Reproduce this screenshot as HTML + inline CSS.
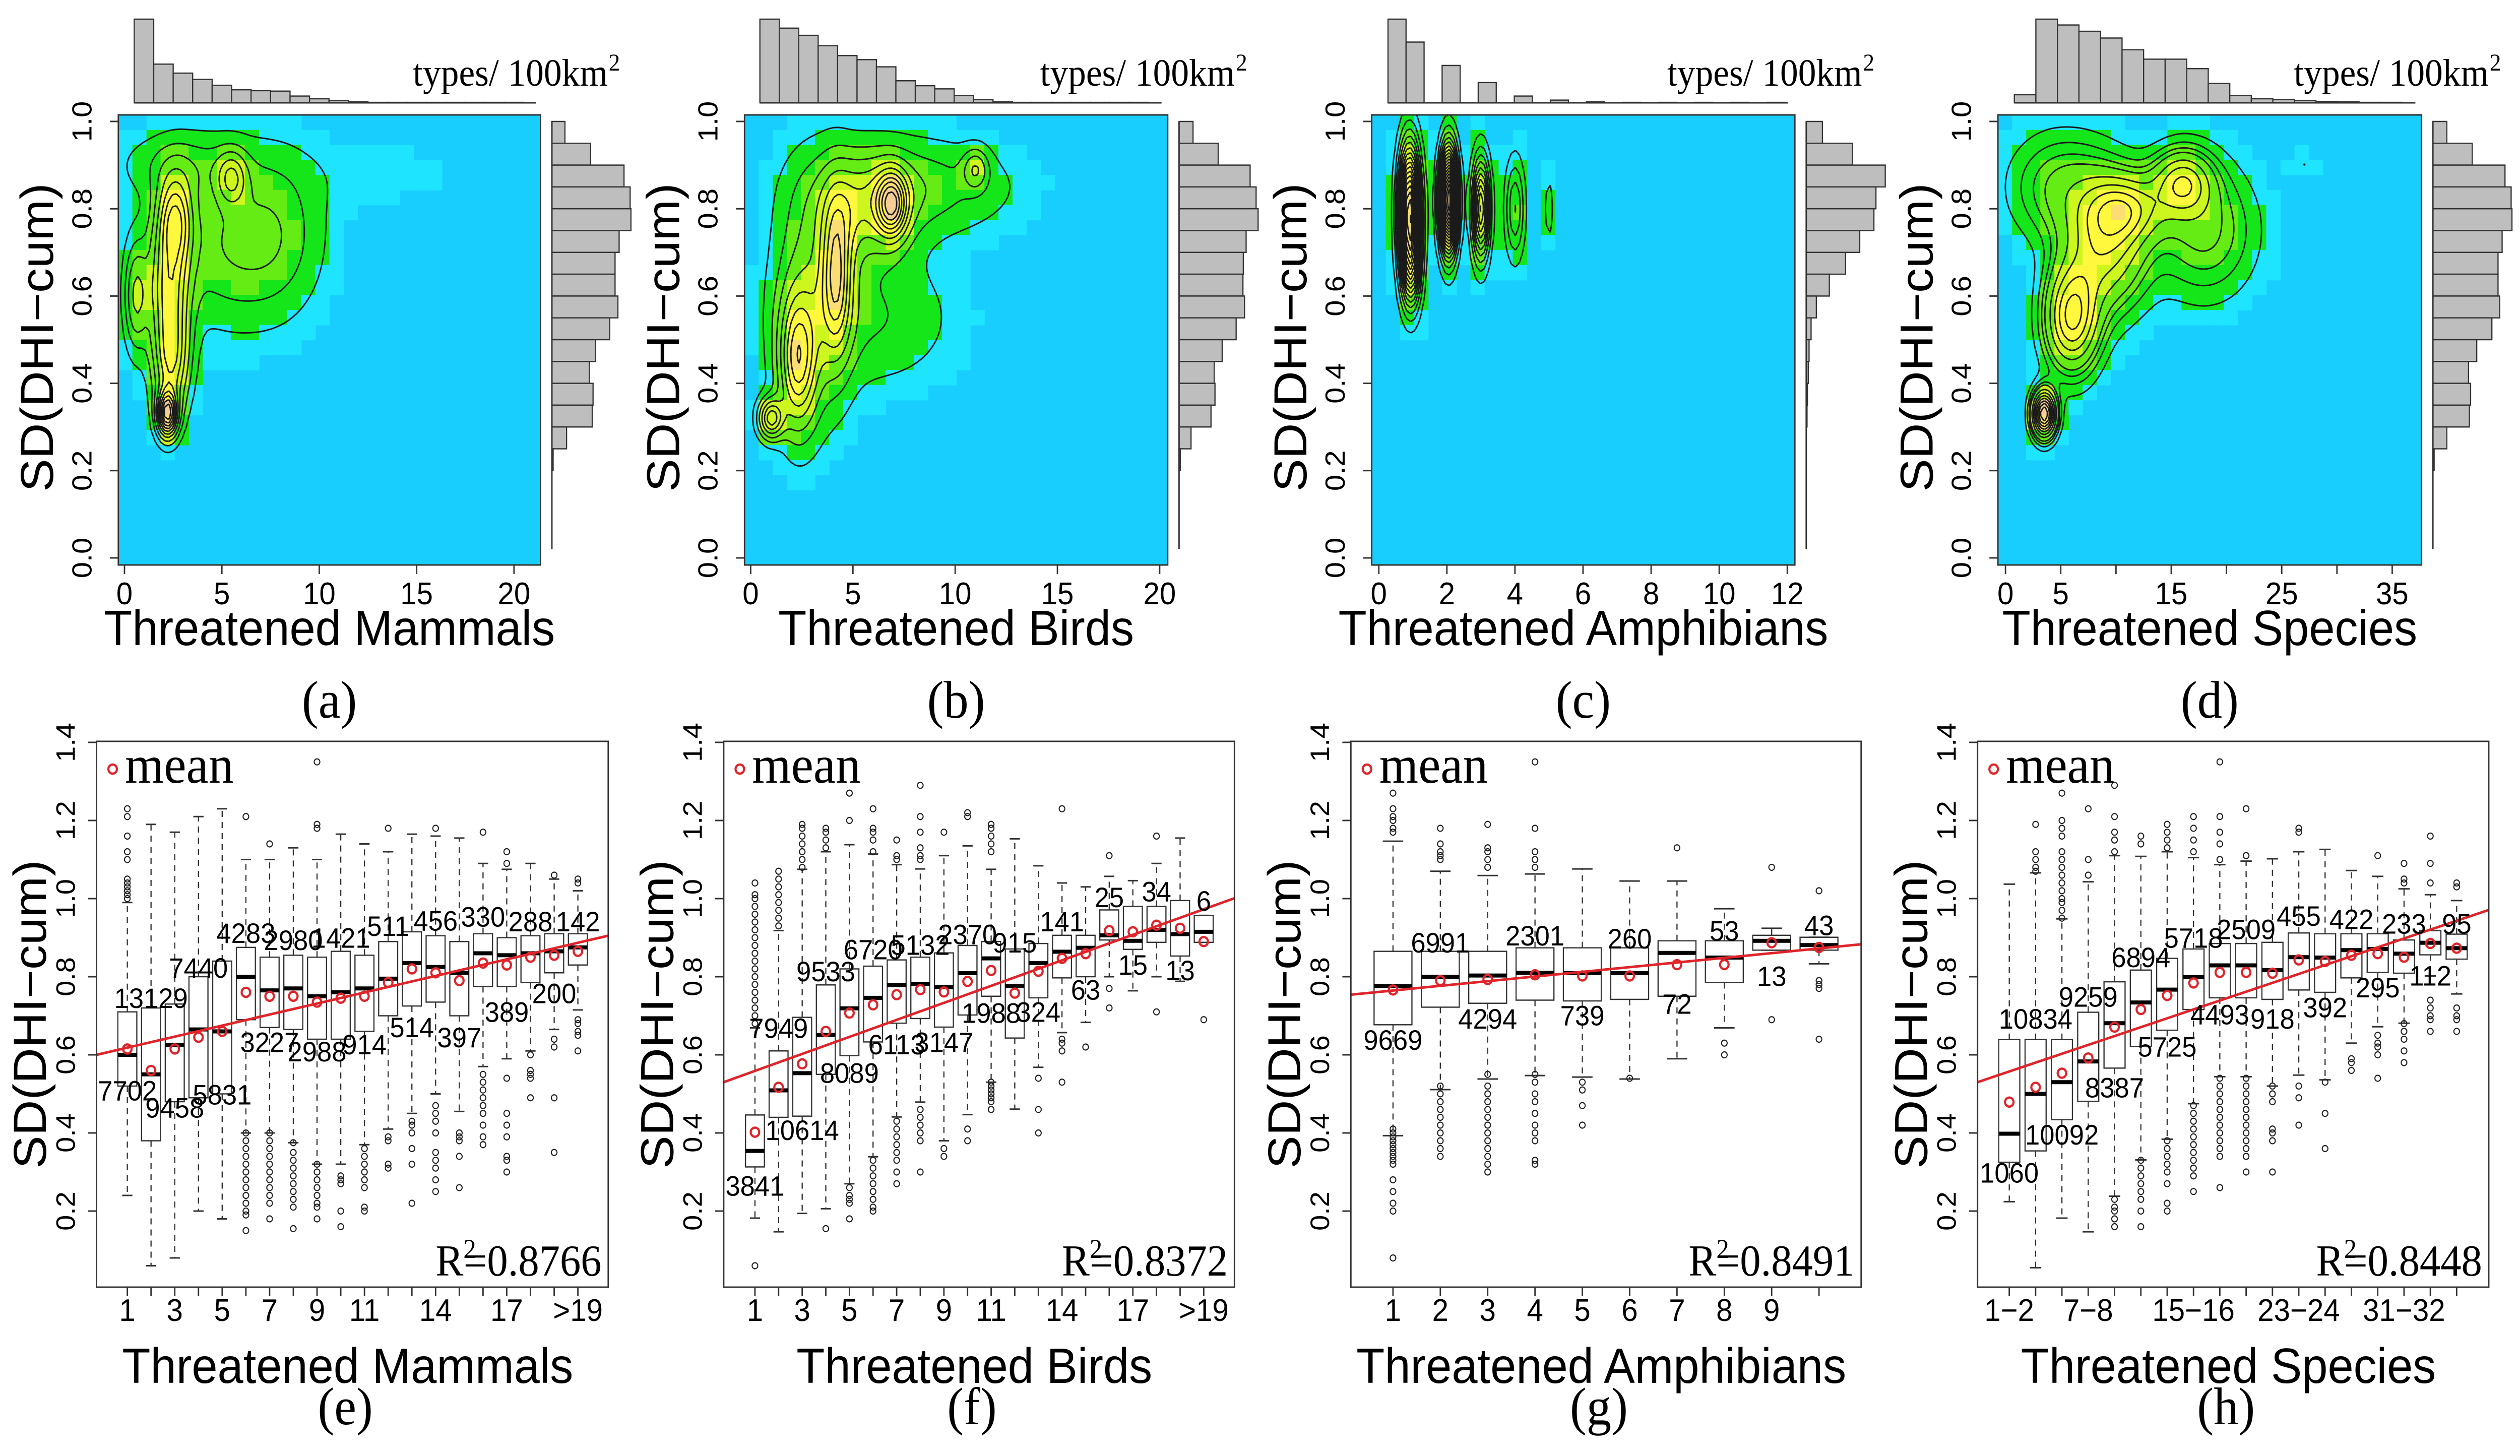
<!DOCTYPE html>
<html><head><meta charset="utf-8"><title>Threatened species vs SD(DHI-cum)</title>
<style>
html,body{margin:0;padding:0;background:#fff;overflow:hidden;width:100%;height:100%;}
svg{display:block;width:100vw;height:100vh;}
text{font-family:"Liberation Sans",Arial,sans-serif;fill:#000;}
.serif{font-family:"Liberation Serif","Times New Roman",serif;}
</style></head>
<body>
<svg id="fig" xmlns="http://www.w3.org/2000/svg" viewBox="0 0 5324 2889" preserveAspectRatio="none"></svg>
<script>
// ===== DATA: top row (density heatmaps) =====
const aBlobX=[2.2,2.4,2.3,0.6,2.6,5.5,5.5,8,12,3];
const aBlobY=[0.33,0.45,0.62,0.6,0.78,0.87,0.72,0.75,0.88,0.9];
const aBlobSX=[0.35,0.6,0.7,0.4,0.6,0.5,2.2,1.5,4,2];
const aBlobSY=[0.035,0.08,0.1,0.08,0.07,0.04,0.12,0.12,0.06,0.05];
const aBlobAmp=[1.0,0.5,0.55,0.35,0.55,0.35,0.22,0.12,0.03,0.15];
const aTopHist=[186,86,66,52,39,29,27,26,15,9,5,2,1,1,1,1,1,1,1,1];
const aRightHist=[32,95,177,192,194,165,155,155,162,142,107,92,101,99,36,3];

const bBlobX=[1.0,2.3,4.2,6.9,5.5,3,11,8,6];
const bBlobY=[0.32,0.45,0.65,0.81,0.8,0.6,0.89,0.85,0.55];
const bBlobSX=[0.4,0.6,0.5,0.5,1.5,1.2,0.4,3,2.5];
const bBlobSY=[0.03,0.1,0.12,0.05,0.08,0.18,0.03,0.07,0.1];
const bBlobAmp=[0.8,0.8,0.8,1.0,0.45,0.35,0.35,0.25,0.18];
const bTopHist=[186,166,150,127,105,96,80,49,38,31,16,7,2,1,1,1,1,1,1,1];
const bRightHist=[35,98,178,193,198,168,161,160,164,143,108,88,90,80,30,3];

const cBlobX=[0.9,0.95,2.05,3.0,4.0,5.0];
const cBlobY=[0.8,0.66,0.82,0.8,0.8,0.8];
const cBlobSX=[0.22,0.2,0.18,0.18,0.2,0.1];
const cBlobSY=[0.1,0.07,0.08,0.08,0.08,0.06];
const cBlobAmp=[0.8,0.3,1.0,0.5,0.2,0.08];
const cTopHist=[186,135,0,83,0,45,0,15,0,6,0,2,0,1,0,1,0,1,0,1,0,1];
const cRightHist=[40,114,195,172,167,132,97,57,25,12,7,5,3,2];

const dBlobX=[3.5,6,9,16,11,5,18,27];
const dBlobY=[0.33,0.55,0.72,0.86,0.8,0.85,0.75,0.9];
const dBlobSX=[0.7,1.6,2.5,1.8,2.2,3,3,1];
const dBlobSY=[0.035,0.08,0.1,0.05,0.05,0.08,0.1,0.02];
const dBlobAmp=[1.0,0.6,0.45,0.42,0.35,0.2,0.22,0.05];
const dTopHist=[18,186,173,159,144,118,97,97,76,43,16,9,7,5,3,2,1,1];
const dRightHist=[34,96,176,191,193,169,159,159,163,144,107,87,92,89,34,3];

// ===== DATA: bottom row (boxplots) =====
const eQ1=[.52,.38,.48,.49,.50,.69,.67,.665,.64,.64,.66,.70,.725,.735,.70,.775,.775,.785,.81,.83];
const eMed=[.60,.55,.625,.665,.66,.80,.765,.77,.75,.76,.77,.795,.835,.825,.81,.86,.855,.86,.865,.875];
const eQ3=[.71,.72,.73,.80,.84,.875,.85,.855,.85,.865,.855,.89,.915,.905,.89,.91,.90,.905,.91,.91];
const eLo=[.24,.06,.08,.20,.18,.40,.40,.375,.32,.32,.37,.41,.45,.50,.455,.57,.59,.61,.665,.715];
const eHi=[.99,1.19,1.17,1.21,1.23,1.10,1.10,1.13,1.10,1.165,1.14,1.12,1.165,1.16,1.155,1.09,1.075,1.09,1.05,1.02];
const eMean=[.615,.56,.615,.645,.66,.76,.75,.75,.735,.745,.75,.785,.82,.81,.79,.835,.83,.85,.855,.865];
const eCounts=["7702","13129","9458","7440","5831","4283","3227","2980","2988","1421","914","511","514","456","397","330","389","288","200","142"];
const eCountY=[.509,.746,.465,.823,.499,.912,.633,.894,.609,.90,.627,.93,.671,.944,.645,.954,.71,.942,.758,.942];
const eOut=[[1.23,1.21,1.16,1.12,1.10,1.05,1.04,1.03,1.02,1.01,1.0],[],[],[],[],
[1.21,.40,.38,.36,.34,.32,.30,.28,.26,.24,.22,.20,.19,.15],[1.14,.40,.38,.36,.34,.32,.30,.28,.26,.24,.22,.18],[.375,.35,.33,.31,.29,.27,.25,.23,.21,.155],
[1.35,1.19,1.18,.32,.30,.28,.26,.24,.22,.21,.18],[.29,.28,.27,.20,.16],[.36,.34,.32,.30,.28,.26,.21,.20],[1.18,.39,.38,.32,.31],
[.43,.42,.40,.36,.32,.22],[1.18,.47,.45,.43,.40,.35,.33,.31,.28,.25],[.40,.39,.38,.34,.26],[1.17,.55,.53,.51,.49,.47,.45,.42,.39,.37],
[1.12,1.09,.54,.45,.42,.39,.34,.33,.30],[.60,.56,.55,.54,.49],[1.06,.64,.62,.49,.35],[1.05,1.04,.69,.68,.66,.65,.61]];
const eFit=[0.600,0.905];

const fQ1=[.313,.44,.443,.55,.598,.633,.681,.693,.671,.702,.75,.643,.746,.797,.80,.894,.87,.888,.853,.888];
const fMed=[.354,.509,.553,.651,.719,.746,.778,.782,.773,.809,.847,.776,.835,.864,.874,.906,.892,.92,.909,.915];
const fQ3=[.446,.61,.696,.779,.82,.827,.843,.85,.861,.88,.89,.871,.885,.906,.906,.971,.98,.98,.995,.957];
const fLo=[.182,.147,.194,.206,.27,.339,.441,.479,.38,.447,.53,.461,.568,.657,.683,.80,.764,.80,.788,.888];
const fHi=[.669,.918,1.075,1.12,1.138,1.114,1.087,1.076,1.11,1.135,1.075,1.153,1.084,1.04,1.03,1.057,1.046,1.09,1.155,.957];
const fMean=[.402,.517,.577,.66,.707,.728,.754,.767,.761,.788,.816,.758,.814,.847,.859,.918,.915,.932,.924,.89];
const fCounts=["3841","7949","10614","9533","8089","6720","6113","5132","3147","2370","1988","915","324","141","63","25","15","34","13","6"];
const fCountY=[.265,.669,.408,.814,.554,.87,.627,.882,.633,.909,.708,.888,.71,.942,.767,1.004,.831,1.019,.817,.995];
const fOut=[[.68,.70,.72,.74,.76,.78,.80,.82,.84,.86,.88,.90,.92,.94,.96,.98,1.0,1.01,1.04,.06],[.93,.95,.97,.99,1.01,1.03,1.05,1.07],[1.08,1.10,1.12,1.14,1.16,1.18,1.19],[1.13,1.15,1.17,1.18,.155],
[1.20,1.27,.26,.24,.23,.22,.18],[1.12,1.15,1.17,1.18,1.23,.33,.31,.29,.27,.25,.23,.21,.20],[1.10,1.11,1.15,.43,.41,.39,.37,.35,.33,.30,.27],[1.10,1.11,1.13,1.17,1.21,1.29,.46,.44,.42,.40,.38,.30],
[1.17,.36,.34],[1.21,1.22,.41,.38],[1.12,1.14,1.16,1.18,1.19,.53,.52,.51,.50,.49,.48,.46],[],[.54,.46,.40],[1.23,.64,.63,.61,.53],[.62],[1.11,.77,.72],[],[1.16,.71],[],[.69]];
const fFit=[0.530,1.001];

const gQ1=[.677,.722,.732,.74,.738,.742,.75,.785,.868,.868];
const gMed=[.776,.80,.803,.81,.809,.809,.861,.849,.892,.881];
const gQ3=[.865,.865,.865,.874,.874,.874,.892,.892,.906,.901];
const gLo=[.393,.511,.538,.547,.543,.538,.59,.669,.868,.833];
const gHi=[1.147,1.07,1.059,1.063,1.076,1.045,1.045,.974,.924,.901];
const gMean=[.766,.79,.793,.805,.802,.802,.831,.831,.887,.875];
const gCounts=["9669","6991","4294","2301","739","260","72","53","13","43"];
const gCountY=[.639,.888,.693,.906,.701,.898,.731,.918,.802,.932];
const gOut=[[1.17,1.18,1.20,1.21,1.23,1.27,.41,.40,.39,.38,.37,.36,.35,.34,.33,.32,.28,.25,.22,.20,.08],
[1.10,1.11,1.12,1.14,1.18,.52,.50,.48,.46,.44,.42,.40,.38,.36,.34],[1.08,1.10,1.12,1.13,1.19,.55,.52,.50,.48,.46,.44,.42,.40,.38,.36,.34,.32,.30],
[1.08,1.10,1.12,1.18,1.35,.55,.53,.50,.48,.45,.42,.40,.38,.33,.32],[.53,.51,.47,.42],[.54],[1.13],[.63,.60],[1.08,.69],[1.02,.79,.78,.77,.64]];
const gFit=[0.754,0.883];

const hQ1=[.325,.354,.434,.481,.566,.621,.663,.716,.746,.746,.742,.766,.76,.797,.811,.809,.856,.845];
const hMed=[.398,.50,.53,.583,.681,.734,.767,.799,.829,.829,.817,.85,.849,.868,.871,.859,.887,.873];
const hQ3=[.639,.639,.639,.709,.787,.817,.847,.871,.885,.885,.888,.912,.91,.91,.91,.894,.918,.909];
const hLo=[.224,.055,.182,.147,.238,.331,.384,.475,.544,.544,.52,.548,.536,.63,.672,.681,.802,.756];
const hHi=[1.037,1.066,.948,1.043,1.11,1.108,1.12,1.105,1.087,1.096,1.102,1.12,1.126,1.072,1.057,1.025,1.01,.995];
const hMean=[.479,.517,.553,.592,.671,.716,.752,.784,.811,.811,.809,.843,.839,.855,.859,.85,.885,.873];
const hCounts=["1060","10834","10092","9259","8387","6894","5725","5718","4493","2509","918","455","392","422","295","233","112","95"];
const hCountY=[.299,.693,.396,.749,.517,.85,.621,.90,.704,.922,.693,.956,.722,.948,.773,.936,.803,.936];
const hOut=[[],[1.07,1.08,1.10,1.12,1.19],[.95,.97,.99,1.0,1.02,1.04,1.06,1.08,1.10,1.12,1.16,1.18,1.20,1.27],[1.06,1.10,1.23],
[1.12,1.15,1.17,1.21,1.29,.23,.21,.20,.18,.16],[1.14,1.16,.33,.31,.29,.27,.25,.23,.20,.16],[1.13,1.15,1.17,1.19,.38,.36,.34,.32,.30,.27,.22,.20],
[1.12,1.15,1.18,1.21,.47,.45,.43,.41,.39,.37,.35,.33,.31,.29,.25],[1.10,1.14,1.17,1.21,1.35,.54,.52,.50,.48,.46,.44,.42,.40,.38,.36,.34,.26],
[1.11,1.23,.54,.52,.50,.48,.46,.44,.42,.40,.38,.36,.34,.30],[.52,.50,.48,.41,.40,.38,.30],[1.17,1.18,.52,.49,.42],[.53,.45,.36],[.59,.58,.56],
[1.11,.65,.63,.62,.60,.54],[1.04,1.05,1.09,.68,.66,.64,.61,.58],[1.04,1.09,1.16,.74,.72,.70,.69,.66],[1.03,1.04,.72,.70,.69,.66]];
const hFit=[0.530,0.971];

const eTickLabels={1:"1",3:"3",5:"5",7:"7",9:"9",11:"11",14:"14",17:"17",20:">19"};
const gTickLabels={1:"1",2:"2",3:"3",4:"4",5:"5",6:"6",7:"7",8:"8",9:"9"};
const hTickLabels={1:"1\u22122",4:"7\u22128",8:"15\u221216",12:"23\u221224",16:"31\u221232"};
const yTicksTop=[0,0.2,0.4,0.6,0.8,1.0];
const yTicksBottom=[0.2,0.4,0.6,0.8,1.0,1.2,1.4];

// ===== LAYOUT (pixels) =====
const NS="http://www.w3.org/2000/svg";
const svg=document.getElementById("fig");
function mk(tag,attrs,parent){const el=document.createElementNS(NS,tag);for(const k in attrs)el.setAttribute(k,attrs[k]);parent.appendChild(el);return el;}

const TOP={T:228,B:1121,y1px:241,y0px:1107,histBase:204,histMax:166,rhMax:167};
const topPanels=[
 {id:"a",L:250,R:1142,x0:263,x1:1086,v1:20,ticks:[0,5,10,15,20],labels:[0,5,10,15,20],title:"Threatened Mammals",
  bx:aBlobX,by:aBlobY,bsx:aBlobSX,bsy:aBlobSY,bamp:aBlobAmp,th:aTopHist,rh:aRightHist,hStart:0.5,hW:1.0,hEnd:1132,levels:[0.05,0.12,0.2,0.3,0.4,0.5,0.6,0.7,0.8,0.9]},
 {id:"b",L:1573,R:2467,x0:1586,x1:2450,v1:20,ticks:[0,5,10,15,20],labels:[0,5,10,15,20],title:"Threatened Birds",
  bx:bBlobX,by:bBlobY,bsx:bBlobSX,bsy:bBlobSY,bamp:bBlobAmp,th:bTopHist,rh:bRightHist,hStart:0.45,hW:0.95,hEnd:2454,levels:[0.05,0.12,0.2,0.3,0.4,0.5,0.6,0.7,0.8,0.9]},
 {id:"c",L:2898,R:3792,x0:2913,x1:3776,v1:12,ticks:[0,2,4,6,8,10,12],labels:[0,2,4,6,8,10,12],title:"Threatened Amphibians",
  bx:cBlobX,by:cBlobY,bsx:cBlobSX,bsy:cBlobSY,bamp:cBlobAmp,th:cTopHist,rh:cRightHist,hStart:0.27,hW:0.53,hEnd:3778,levels:[0.05,0.1,0.15,0.2,0.25,0.3,0.35,0.4,0.45,0.5,0.55,0.6,0.65,0.7,0.75,0.8,0.85,0.9,0.95]},
 {id:"d",L:4221,R:5116,x0:4237,x1:5054,v1:35,ticks:[0,5,10,15,20,25,30,35],labels:[0,5,15,25,35],title:"Threatened Species",
  bx:dBlobX,by:dBlobY,bsx:dBlobSX,bsy:dBlobSY,bamp:dBlobAmp,th:dTopHist,rh:dRightHist,hStart:0.8,hW:1.95,hEnd:5103,levels:[0.05,0.1,0.15,0.2,0.3,0.4,0.5,0.6,0.7,0.8,0.9]}
];

function heatColor(d){
 if(d<0.015) return "rgb(24,206,255)";
 if(d<0.05) return "rgb(30,228,255)";
 if(d<0.15) return "rgb(20,230,25)";
 if(d<0.3) return "rgb(100,236,20)";
 if(d<0.45) return "rgb(205,245,30)";
 if(d<0.65) return "rgb(255,248,60)";
 if(d<0.85) return "rgb(250,222,115)";
 return "rgb(244,205,150)";
}

topPanels.forEach(p=>{
 const g=mk("g",{},svg);
 
 
 const xs=v=>p.x0+(v/p.v1)*(p.x1-p.x0);
 const xinv=px=>(px-p.x0)/(p.x1-p.x0)*p.v1;
 const ys=v=>TOP.y0px-v*(TOP.y0px-TOP.y1px);
 const yinv=py=>(TOP.y0px-py)/(TOP.y0px-TOP.y1px);
 const dens=(x,y)=>{let s=0;for(let k=0;k<p.bx.length;k++){const dx=(x-p.bx[k])/p.bsx[k],dy=(y-p.by[k])/p.bsy[k];s+=p.bamp[k]*Math.exp(-0.5*(dx*dx+dy*dy));}return s;};
 const N=110,W=p.R-p.L,H=TOP.B-TOP.T;
 const grid=[];let mx=0;
 for(let j=0;j<N;j++){const row=[];for(let i=0;i<N;i++){const v=dens(xinv(p.L+i*W/(N-1)),yinv(TOP.T+j*H/(N-1)));row.push(v);if(v>mx)mx=v;}grid.push(row);}
 const NC=30,cw=W/NC,ch=H/NC;
 const bg=mk("rect",{x:p.L,y:TOP.T,width:W,height:H,fill:"rgb(24,206,255)"},g);
 
 
 for(let j=0;j<NC;j++)for(let i=0;i<NC;i++){
  const d=dens(xinv(p.L+(i+0.5)*cw),yinv(TOP.T+(j+0.5)*ch))/mx;
  if(d<0.015)continue;
  const r=mk("rect",{x:(p.L+i*cw).toFixed(1),y:(TOP.T+j*ch).toFixed(1),width:(cw+0.8).toFixed(1),height:(ch+0.8).toFixed(1),fill:heatColor(d)},g);
  
  
 }
 let path="";
 const P=(i,j)=>[(p.L+i*W/(N-1)).toFixed(1),(TOP.T+j*H/(N-1)).toFixed(1)];
 p.levels.forEach(fr=>{
  const L=fr*mx;
  for(let j=0;j<N-1;j++)for(let i=0;i<N-1;i++){
   const a=grid[j][i],b=grid[j][i+1],c=grid[j+1][i+1],d=grid[j+1][i];
   const idx=(a>L?8:0)|(b>L?4:0)|(c>L?2:0)|(d>L?1:0);
   if(idx===0||idx===15)continue;
   const top=()=>P(i+(L-a)/(b-a),j),right=()=>P(i+1,j+(L-b)/(c-b)),bot=()=>P(i+(L-d)/(c-d),j+1),left=()=>P(i,j+(L-a)/(d-a));
   const seg=(u,v)=>{path+="M"+u[0]+" "+u[1]+"L"+v[0]+" "+v[1];};
   switch(idx){
    case 1:case 14:seg(left(),bot());break;
    case 2:case 13:seg(bot(),right());break;
    case 3:case 12:seg(left(),right());break;
    case 4:case 11:seg(top(),right());break;
    case 5:seg(left(),top());seg(bot(),right());break;
    case 6:case 9:seg(top(),bot());break;
    case 7:case 8:seg(left(),top());break;
    case 10:seg(top(),right());seg(left(),bot());break;
   }
  }
 });
 const cp=mk("path",{d:path,fill:"none",stroke:"#1a1a1a","stroke-width":3},g);
 
 
 const frame=mk("rect",{x:p.L,y:TOP.T,width:W,height:H,fill:"none",stroke:"#333","stroke-width":3},g);
 
 
 p.ticks.forEach(t=>{
  const tk=mk("line",{x1:xs(t),x2:xs(t),y1:TOP.B,y2:TOP.B+18,stroke:"#333","stroke-width":3},g);
  
  
 });
 p.labels.forEach(t=>{
  const tx=mk("text",{x:xs(t),y:1199,"font-size":62,"text-anchor":"middle"},g);
  tx.textContent=String(t);
  
  
 });
 yTicksTop.forEach(t=>{
  const tk=mk("line",{x1:p.L-18,x2:p.L,y1:ys(t),y2:ys(t),stroke:"#333","stroke-width":3},g);
  
  
  const tx=mk("text",{x:0,y:0,"font-size":58,"text-anchor":"middle",transform:"translate("+(p.L-57)+","+ys(t)+") rotate(-90)"},g);
  tx.textContent=t.toFixed(1);
  
  
 });
 const yt=mk("text",{x:0,y:0,"font-size":98,"text-anchor":"middle",transform:"translate("+(p.L-138)+","+((TOP.T+TOP.B)/2-5)+") rotate(-90)"},g);
 yt.textContent="SD(DHI\u2212cum)";
 
 
 const xt=mk("text",{x:(p.L+p.R)/2,y:1280,"font-size":98,"text-anchor":"middle"},g);
 xt.textContent=p.title;
 
 
 const pl=mk("text",{x:(p.L+p.R)/2,y:1424,"font-size":105,"text-anchor":"middle",class:"serif"},g);
 pl.textContent="("+p.id+")";
 
 
 const thMax=Math.max(...p.th);
 p.th.forEach((h,k)=>{
  if(h<=0)return;
  const x0=xs(p.hStart+k*p.hW),x1=xs(p.hStart+(k+1)*p.hW);
  if(x0>p.hEnd)return;
  const hh=h/thMax*TOP.histMax;
  const r=mk("rect",{x:x0,y:TOP.histBase-hh,width:x1-x0,height:hh,fill:"#bebebe",stroke:"#333","stroke-width":2.5},g);
  
  
 });
 const hb=mk("line",{x1:xs(p.hStart),x2:p.hEnd,y1:TOP.histBase,y2:TOP.histBase,stroke:"#333","stroke-width":3},g);
 
 
 const rhMax=Math.max(...p.rh),rb=p.R+24;
 p.rh.forEach((h,k)=>{
  const y0=ys(1-k*0.05),y1=ys(1-(k+1)*0.05),ww=h/rhMax*TOP.rhMax;
  const r=mk("rect",{x:rb,y:y0,width:ww,height:y1-y0,fill:"#bebebe",stroke:"#333","stroke-width":2.5},g);
  
  
 });
 const rbl=mk("line",{x1:rb,x2:rb,y1:ys(1),y2:ys(0.02),stroke:"#333","stroke-width":3},g);
 
 
 const un=mk("text",{x:p.R+142,y:170,"font-size":76,"text-anchor":"end",class:"serif"},g);
 un.textContent="types/ 100km";
 
 
 const sup=mk("text",{x:p.R+144,y:140,"font-size":48,class:"serif"},g);
 sup.textContent="2";
 
 
});

// ===== bottom row =====
const BOT={T:1471,B:2554};
const ysB=v=>1783-(v-1)*775;
const botPanels=[
 {id:"e",L:204,R:1285,x1:269,sp:50.1,q1:eQ1,med:eMed,q3:eQ3,lo:eLo,hi:eHi,mean:eMean,cnt:eCounts,cy:eCountY,out:eOut,fit:eFit,tl:eTickLabels,r2:"0.8766",title:"Threatened Mammals"},
 {id:"f",L:1529,R:2608,x1:1595,sp:49.9,q1:fQ1,med:fMed,q3:fQ3,lo:fLo,hi:fHi,mean:fMean,cnt:fCounts,cy:fCountY,out:fOut,fit:fFit,tl:eTickLabels,r2:"0.8372",title:"Threatened Birds"},
 {id:"g",L:2854,R:3932,x1:2943,sp:100,q1:gQ1,med:gMed,q3:gQ3,lo:gLo,hi:gHi,mean:gMean,cnt:gCounts,cy:gCountY,out:gOut,fit:gFit,tl:gTickLabels,r2:"0.8491",title:"Threatened Amphibians"},
 {id:"h",L:4178,R:5258,x1:4245,sp:55.6,q1:hQ1,med:hMed,q3:hQ3,lo:hLo,hi:hHi,mean:hMean,cnt:hCounts,cy:hCountY,out:hOut,fit:hFit,tl:hTickLabels,r2:"0.8448",title:"Threatened Species"}
];
botPanels.forEach(p=>{
 const g=mk("g",{},svg);
 
 
 const xc=c=>p.x1+c*p.sp;
 const bw=p.sp*0.8;
 const n=p.med.length;
 for(let i=0;i<n;i++){
  const cx=xc(i);
  const w1=mk("line",{x1:cx,x2:cx,y1:ysB(p.q3[i]),y2:ysB(p.hi[i]),stroke:"#333","stroke-width":2.5,"stroke-dasharray":"12,10"},g);
  
  
  const w2=mk("line",{x1:cx,x2:cx,y1:ysB(p.q1[i]),y2:ysB(p.lo[i]),stroke:"#333","stroke-width":2.5,"stroke-dasharray":"12,10"},g);
  
  
  [p.hi[i],p.lo[i]].forEach(v=>{
   const cap=mk("line",{x1:cx-bw*0.27,x2:cx+bw*0.27,y1:ysB(v),y2:ysB(v),stroke:"#333","stroke-width":3},g);
   
   
  });
  const bx=mk("rect",{x:cx-bw/2,y:ysB(p.q3[i]),width:bw,height:ysB(p.q1[i])-ysB(p.q3[i]),fill:"#fff",stroke:"#333","stroke-width":2.5},g);
  
  
  const md=mk("line",{x1:cx-bw/2,x2:cx+bw/2,y1:ysB(p.med[i]),y2:ysB(p.med[i]),stroke:"#000","stroke-width":8},g);
  
  
  p.out[i].forEach(v=>{
   const o=mk("circle",{cx:cx,cy:ysB(v),r:6,fill:"none",stroke:"#222","stroke-width":2.2},g);
   
   
  });
 }
 const fl=mk("line",{x1:p.L,x2:p.R,y1:ysB(p.fit[0]),y2:ysB(p.fit[1]),stroke:"#e0242a","stroke-width":5},g);
 
 
 for(let i=0;i<n;i++){
  const m=mk("circle",{cx:xc(i),cy:ysB(p.mean[i]),r:9,fill:"none",stroke:"#e0242a","stroke-width":4.5},g);
  
  
  const t=mk("text",{x:xc(i),y:ysB(p.cy[i])+20,"font-size":56,"text-anchor":"middle"},g);
  t.textContent=p.cnt[i];
  
  
 }
 const fr=mk("rect",{x:p.L,y:BOT.T,width:p.R-p.L,height:BOT.B-BOT.T,fill:"none",stroke:"#333","stroke-width":3},g);
 
 
 for(let i=0;i<n;i++){
  const tk=mk("line",{x1:xc(i),x2:xc(i),y1:BOT.B,y2:BOT.B+18,stroke:"#333","stroke-width":3},g);
  
  
  const lab=p.tl[i+1];
  if(lab){
   const tx=mk("text",{x:xc(i),y:2621,"font-size":62,"text-anchor":"middle"},g);
   tx.textContent=lab;
   
   
  }
 }
 yTicksBottom.forEach(t=>{
  const tk=mk("line",{x1:p.L-18,x2:p.L,y1:ysB(t),y2:ysB(t),stroke:"#333","stroke-width":3},g);
  
  
  const tx=mk("text",{x:0,y:0,"font-size":56,"text-anchor":"middle",transform:"translate("+(p.L-46)+","+ysB(t)+") rotate(-90)"},g);
  tx.textContent=t.toFixed(1);
  
  
 });
 const yt=mk("text",{x:0,y:0,"font-size":98,"text-anchor":"middle",transform:"translate("+(p.L-107)+","+((BOT.T+BOT.B)/2)+") rotate(-90)"},g);
 yt.textContent="SD(DHI\u2212cum)";
 
 
 const xt=mk("text",{x:(p.L+p.R)/2-10,y:2744,"font-size":98,"text-anchor":"middle"},g);
 xt.textContent=p.title;
 
 
 const pl=mk("text",{x:(p.L+p.R)/2-15,y:2826,"font-size":105,"text-anchor":"middle",class:"serif"},g);
 pl.textContent="("+p.id+")";
 
 
 const lc=mk("circle",{cx:p.L+34,cy:1526,r:9,fill:"none",stroke:"#e0242a","stroke-width":4.5},g);
 
 
 const lt=mk("text",{x:p.L+60,y:1553,"font-size":106,class:"serif"},g);
 lt.textContent="mean";
 
 
 const r2=mk("text",{x:p.R-14,y:2531,"font-size":88,"text-anchor":"end",class:"serif"},g);
 r2.textContent="="+p.r2;
 
 
 const r2a=mk("text",{x:p.R-14-292,y:2531,"font-size":88,"text-anchor":"end",class:"serif"},g);
 r2a.textContent="R";
 
 
 const r2s=mk("text",{x:p.R-14-292,y:2496,"font-size":54,class:"serif"},g);
 r2s.textContent="2";
 
 
});
</script>
</body></html>
